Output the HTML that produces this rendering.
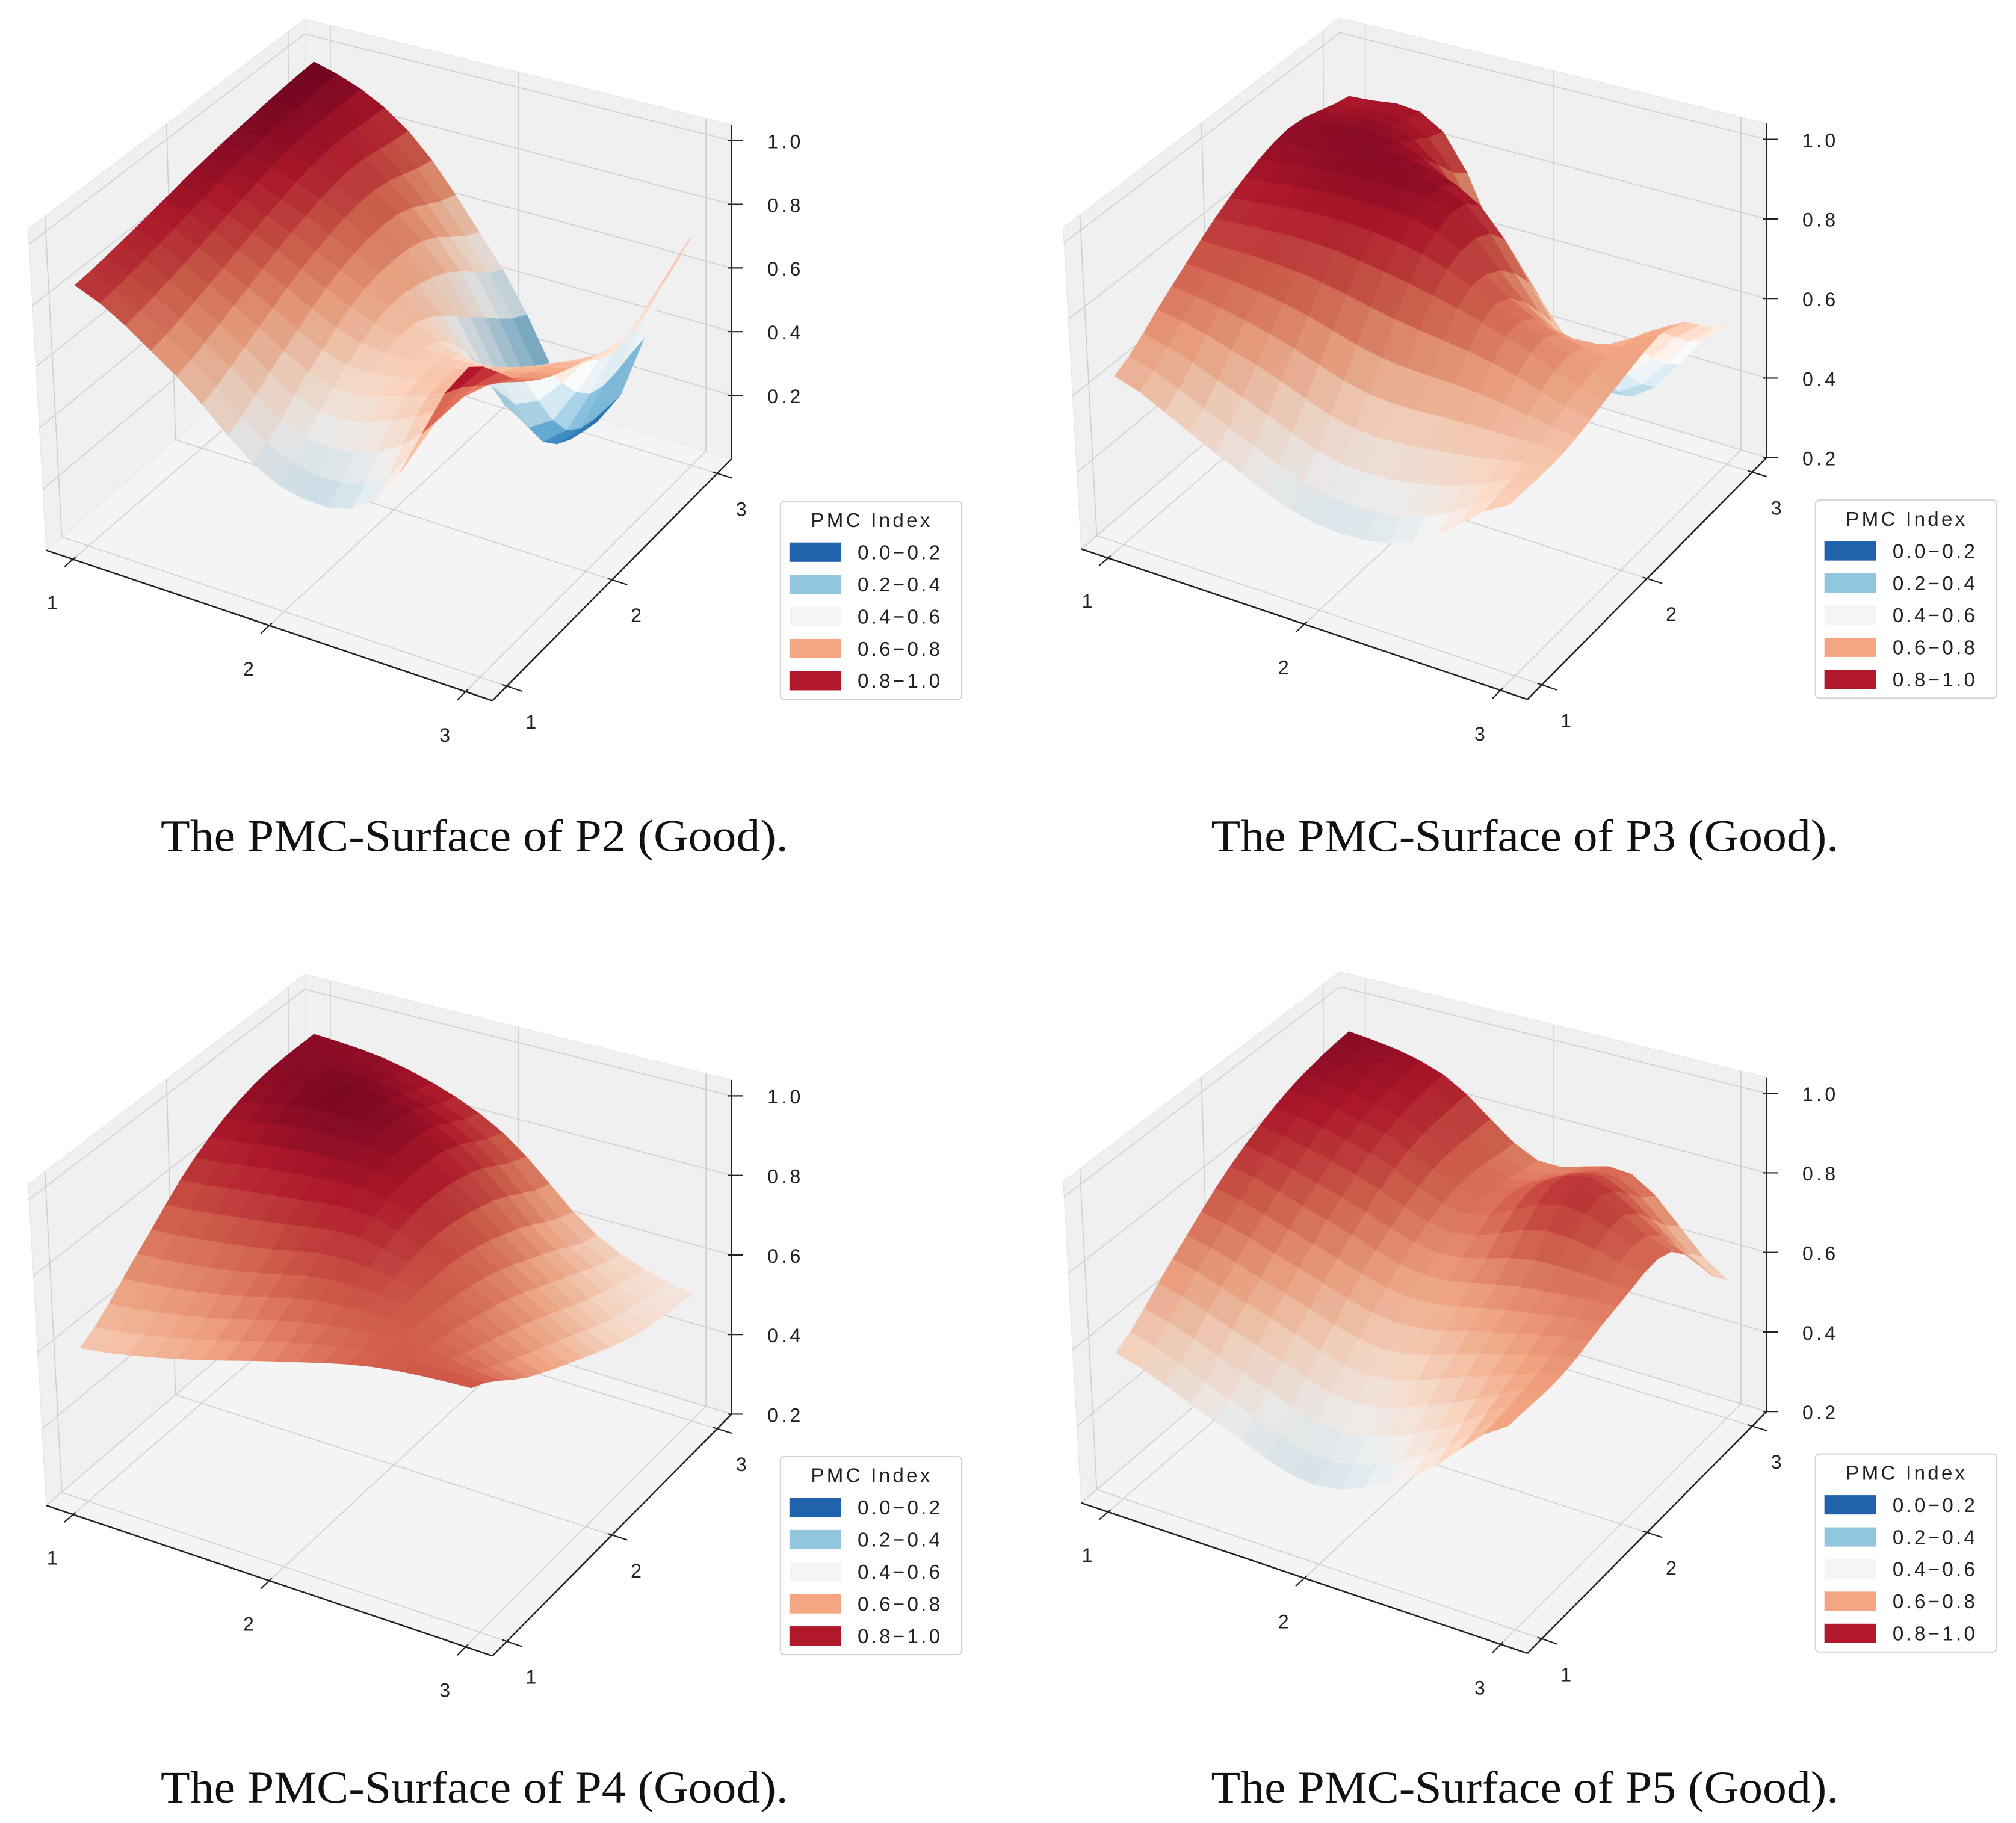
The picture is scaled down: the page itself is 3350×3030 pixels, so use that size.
<!DOCTYPE html>
<html><head><meta charset="utf-8"><title>PMC Surfaces</title>
<style>
html,body{margin:0;padding:0;background:#fff;}
svg{display:block;}
.tick{font-family:"Liberation Sans","Noto Sans CJK SC",sans-serif;font-size:15px;fill:#222;letter-spacing:2.5px;}
.leg{font-family:"Liberation Sans","Noto Sans CJK SC",sans-serif;font-size:15.5px;fill:#222;letter-spacing:2px;}
.cap{font-family:"Liberation Serif",serif;font-size:35px;fill:#111;}
</style></head>
<body>
<svg id="fig" xmlns="http://www.w3.org/2000/svg" width="3350" height="3030" viewBox="0 0 1568 1418" preserveAspectRatio="none">
<text class="cap" x="125" y="662" textLength="488" lengthAdjust="spacingAndGlyphs">The PMC-Surface of P2 (Good).</text>
<text class="cap" x="942" y="662" textLength="488" lengthAdjust="spacingAndGlyphs">The PMC-Surface of P3 (Good).</text>
<text class="cap" x="125" y="1402" textLength="488" lengthAdjust="spacingAndGlyphs">The PMC-Surface of P4 (Good).</text>
<text class="cap" x="942" y="1402" textLength="488" lengthAdjust="spacingAndGlyphs">The PMC-Surface of P5 (Good).</text>
</svg>
<script>
// ---- data (rows: x = 1,1.5,2,2.5,3 ; cols: y = 1,1.5,2,2.5,3) ----
const xTickLabels = ['1','2','3'];
const yTickLabels = ['1','2','3'];
const zTickValues = [0.2,0.4,0.6,0.8,1.0];
const zTickLabels = ['0.2','0.4','0.6','0.8','1.0'];
const legendLabels = ['0.0\u22120.2','0.2\u22120.4','0.4\u22120.6','0.6\u22120.8','0.8\u22121.0'];
const p2Values = [
 [0.85,0.88,0.92,0.95,0.97],
 [0.65,0.72,0.80,0.85,0.82],
 [0.40,0.55,0.65,0.60,0.45],
 [0.45,0.62,0.55,0.15,0.05],
 [0.95,0.75,0.65,0.60,0.72]];
const p3Values = [
 [0.64,0.75,0.86,0.92,0.88],
 [0.52,0.70,0.88,0.93,0.85],
 [0.42,0.62,0.85,0.85,0.40],
 [0.45,0.62,0.75,0.55,0.30],
 [0.62,0.62,0.66,0.68,0.55]];
const p4Values = [
 [0.60,0.72,0.85,0.92,0.93],
 [0.65,0.75,0.88,0.95,0.90],
 [0.72,0.80,0.88,0.88,0.80],
 [0.78,0.78,0.75,0.68,0.60],
 [0.80,0.70,0.62,0.55,0.52]];
const p5Values = [
 [0.58,0.70,0.82,0.90,0.93],
 [0.48,0.62,0.75,0.85,0.88],
 [0.40,0.55,0.68,0.75,0.72],
 [0.50,0.62,0.72,0.85,0.75],
 [0.70,0.70,0.74,0.75,0.55]];

const legendColors = ['#2062ab','#92c5de','#f5f5f5','#f4a582','#b2182b'];
const cmapStops = ['#053061','#2166ac','#4393c3','#92c5de','#d1e5f0','#f7f7f7','#fddbc7','#f4a582','#d6604d','#b2182b','#67001f'];
const NS = 'http://www.w3.org/2000/svg';
const svg = document.getElementById('fig');

const panels = [
 {name:'p2', vals:p2Values, ox:0, oy:0, zmin:0.0, zmax:1.05},
 {name:'p3', vals:p3Values, ox:805, oy:-1, zmin:0.2, zmax:1.04},
 {name:'p4', vals:p4Values, ox:0, oy:743, zmin:0.2, zmax:1.04},
 {name:'p5', vals:p5Values, ox:805, oy:741, zmin:0.2, zmax:1.04}
];
const FA=[36,428],FB=[383,545],FC=[569,357],FD=[237,256];
const TA=[22,178],TB=[373,277],TC=[569,97],TD=[237,15];

function bil(P,Q,R,S,u,v){
  return [(1-u)*(1-v)*P[0]+u*(1-v)*Q[0]+u*v*R[0]+(1-u)*v*S[0],
          (1-u)*(1-v)*P[1]+u*(1-v)*Q[1]+u*v*R[1]+(1-u)*v*S[1]];
}
function hex2rgb(h){return [parseInt(h.substr(1,2),16),parseInt(h.substr(3,2),16),parseInt(h.substr(5,2),16)];}
const stopsRGB = cmapStops.map(hex2rgb);
function cmap(z){
  let s = (z+0.02)/1.0; s=Math.max(0,Math.min(1,s));
  const f = s*10, i=Math.min(9,Math.floor(f)), r=f-i;
  return stopsRGB[i].map((c,k)=>c+(stopsRGB[i+1][k]-c)*r);
}
function cr(p0,p1,p2,p3,s){
  return 0.5*((2*p1)+(-p0+p2)*s+(2*p0-5*p1+4*p2-p3)*s*s+(-p0+3*p1-3*p2+p3)*s*s*s);
}
function sample(g,a,b){
  const n=g.length-1;
  const cl=i=>Math.max(0,Math.min(n,i));
  const i=Math.min(n-1,Math.floor(a)), j=Math.min(n-1,Math.floor(b));
  const sa=a-i, sb=b-j;
  const rows=[];
  for(let di=-1;di<=2;di++){
    const r=g[cl(i+di)];
    rows.push(cr(r[cl(j-1)],r[cl(j)],r[cl(j+1)],r[cl(j+2)],sb));
  }
  return cr(rows[0],rows[1],rows[2],rows[3],sa);
}
function lineEl(parent,p,q,stroke,w){
  const l=document.createElementNS(NS,'line');
  l.setAttribute('x1',p[0].toFixed(2));l.setAttribute('y1',p[1].toFixed(2));
  l.setAttribute('x2',q[0].toFixed(2));l.setAttribute('y2',q[1].toFixed(2));
  l.setAttribute('stroke',stroke);l.setAttribute('stroke-width',w);
  parent.appendChild(l);
  return l;
}

panels.forEach(pn=>{
  const g=document.createElementNS(NS,'g');
  
  
  svg.appendChild(g);
  const P=(u,v,t)=>{const f=bil(FA,FB,FC,FD,u,v),tp=bil(TA,TB,TC,TD,u,v);
    return [pn.ox+f[0]+t*(tp[0]-f[0]), pn.oy+f[1]+t*(tp[1]-f[1])];};
  const tz=z=>(z-pn.zmin)/(pn.zmax-pn.zmin);
  const um=x=>0.06+0.88*(x-1)/2;
  const pts=a=>a.map(p=>p[0].toFixed(2)+','+p[1].toFixed(2)).join(' ');
  const panes=[
    {n:'floor-pane',c:[P(0,0,0),P(1,0,0),P(1,1,0),P(0,1,0)],f:'#f4f4f4'},
    {n:'left-wall-pane',c:[P(0,0,0),P(0,1,0),P(0,1,1),P(0,0,1)],f:'#f0f0f0'},
    {n:'back-wall-pane',c:[P(0,1,0),P(1,1,0),P(1,1,1),P(0,1,1)],f:'#f0f0f0'}];
  panes.forEach(pa=>{
    const pg=document.createElementNS(NS,'polygon');
    pg.setAttribute('points',pts(pa.c));pg.setAttribute('fill',pa.f);
    pg.setAttribute('stroke','#e6e6e6');pg.setAttribute('stroke-width','0.6');
    
    
    g.appendChild(pg);
  });
  const gg=document.createElementNS(NS,'g');
  
  
  g.appendChild(gg);
  const gc='#cfcfcf';
  [1,2,3].forEach(x=>{const u=um(x);
    lineEl(gg,P(u,0,0),P(u,1,0),gc,0.8);lineEl(gg,P(u,1,0),P(u,1,1),gc,0.8);});
  [1,2,3].forEach(y=>{const v=um(y);
    lineEl(gg,P(0,v,0),P(1,v,0),gc,0.8);lineEl(gg,P(0,v,0),P(0,v,1),gc,0.8);});
  zTickValues.forEach(z=>{const t=tz(z); if(t<0||t>1)return;
    lineEl(gg,P(0,0,t),P(0,1,t),gc,0.8);lineEl(gg,P(0,1,t),P(1,1,t),gc,0.8);});
  const ax=lineEl(g,P(0,0,0),P(1,0,0),'#222',1.2);
  
  
  const ay=lineEl(g,P(1,0,0),P(1,1,0),'#222',1.2);
  
  
  const az=lineEl(g,P(1,1,0),P(1,1,1),'#222',1.2);
  
  
  const sg=document.createElementNS(NS,'g');
  
  
  g.appendChild(sg);
  const N=16, n=pn.vals.length-1;
  const Z=[];
  for(let i=0;i<=N;i++){Z.push([]);for(let j=0;j<=N;j++)Z[i].push(sample(pn.vals,i*n/N,j*n/N));}
  const quads=[];
  for(let i=0;i<N;i++)for(let j=0;j<N;j++){
    const c=[[i,j],[i+1,j],[i+1,j+1],[i,j+1]];
    const corners=c.map(([a,b])=>P(0.06+0.88*a/N,0.06+0.88*b/N,tz(Z[a][b])));
    const zc=(Z[i][j]+Z[i+1][j]+Z[i+1][j+1]+Z[i][j+1])/4;
    const uc=0.06+0.88*(i+0.5)/N, vc=0.06+0.88*(j+0.5)/N;
    const near=(uc-vc)+0.5*tz(zc);
    const dzdx=((Z[i+1][j]+Z[i+1][j+1])-(Z[i][j]+Z[i][j+1]))/2*N/2;
    const dzdy=((Z[i][j+1]+Z[i+1][j+1])-(Z[i][j]+Z[i+1][j]))/2*N/2;
    let nx=-dzdx,ny=-dzdy,nz=1;const nl=Math.hypot(nx,ny,nz);nx/=nl;ny/=nl;nz/=nl;
    const L=[-0.55,0.35,0.76];
    const d=Math.max(0,nx*L[0]+ny*L[1]+nz*L[2]);
    const f=0.86+0.16*d;
    const rgb=cmap(zc).map(v=>Math.max(0,Math.min(255,Math.round(v*f))));
    quads.push({corners,near,col:'rgb('+rgb.join(',')+')'});
  }
  quads.sort((a,b)=>a.near-b.near);
  quads.forEach(q=>{
    const pg=document.createElementNS(NS,'polygon');
    pg.setAttribute('points',pts(q.corners));
    pg.setAttribute('fill',q.col);pg.setAttribute('stroke',q.col);pg.setAttribute('stroke-width','0.6');
    
    
    sg.appendChild(pg);
  });
  xTickLabels.forEach((lab,k)=>{const u=um(k+1);
    lineEl(g,P(u,0.01,0),P(u,-0.035,0),'#222',1);
    const t=document.createElementNS(NS,'text');
    const p=P(u,0,0);
    t.setAttribute('x',(p[0]-15).toFixed(1));t.setAttribute('y',(p[1]+39).toFixed(1));
    t.setAttribute('class','tick');t.setAttribute('text-anchor','middle');t.textContent=lab;
    
    
    g.appendChild(t);});
  yTickLabels.forEach((lab,k)=>{const v=um(k+1);
    lineEl(g,P(0.99,v,0),P(1.035,v,0),'#222',1);
    const t=document.createElementNS(NS,'text');
    const p=P(1,v,0);
    t.setAttribute('x',(p[0]+20).toFixed(1));t.setAttribute('y',(p[1]+33).toFixed(1));
    t.setAttribute('class','tick');t.setAttribute('text-anchor','middle');t.textContent=lab;
    
    
    g.appendChild(t);});
  zTickValues.forEach((z,k)=>{const tt=tz(z);
    const p=P(1,1,tt);
    lineEl(g,[p[0]-3,p[1]],[p[0]+9,p[1]],'#222',1);
    const t=document.createElementNS(NS,'text');
    t.setAttribute('x',(p[0]+42).toFixed(1));t.setAttribute('y',(p[1]+6).toFixed(1));
    t.setAttribute('class','tick');t.setAttribute('text-anchor','middle');t.textContent=zTickLabels[k];
    
    
    g.appendChild(t);});
  const lg=document.createElementNS(NS,'g');
  
  
  g.appendChild(lg);
  const lx=pn.ox+607, ly=pn.oy+390;
  const box=document.createElementNS(NS,'rect');
  box.setAttribute('x',lx);box.setAttribute('y',ly);box.setAttribute('width',141);box.setAttribute('height',154);
  box.setAttribute('rx',3);box.setAttribute('fill','#fff');box.setAttribute('stroke','#d4d4d4');box.setAttribute('stroke-width','1');
  
  
  lg.appendChild(box);
  const tt=document.createElementNS(NS,'text');
  tt.setAttribute('x',lx+71);tt.setAttribute('y',ly+20);tt.setAttribute('class','leg');tt.setAttribute('text-anchor','middle');
  tt.textContent='PMC Index';
  
  
  lg.appendChild(tt);
  legendLabels.forEach((lab,k)=>{
    const y=ly+39+k*25;
    const r=document.createElementNS(NS,'rect');
    r.setAttribute('x',lx+7);r.setAttribute('y',y-7);r.setAttribute('width',40);r.setAttribute('height',15);
    r.setAttribute('fill',legendColors[k]);
    
    
    lg.appendChild(r);
    const t=document.createElementNS(NS,'text');
    t.setAttribute('x',lx+60);t.setAttribute('y',y+6);t.setAttribute('class','leg');t.textContent=lab;
    
    
    lg.appendChild(t);
  });
});
</script>
</body></html>
